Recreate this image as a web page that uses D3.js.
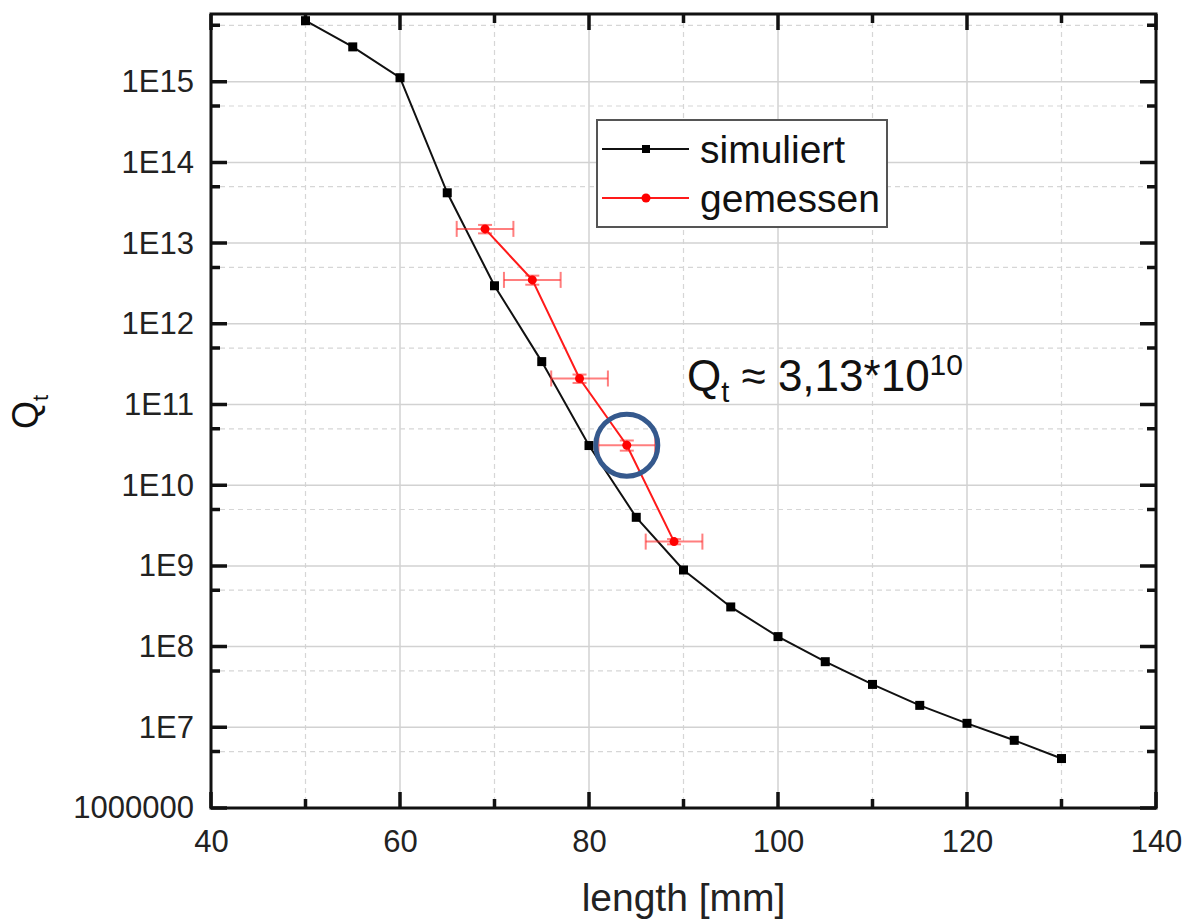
<!DOCTYPE html>
<html>
<head>
<meta charset="utf-8">
<script src="https://cdn.jsdelivr.net/npm/d3@7"></script>
<style>
  html, body { margin: 0; padding: 0; background: #fff; }
  svg { display: block; font-family: "Liberation Sans", Arial, sans-serif; }
</style>
</head>
<body>
<svg id="chart" width="1186" height="923"></svg>
<script>
// simulated curve
const simLength = [50, 55, 60, 65, 70, 75, 80, 85, 90, 95, 100, 105, 110, 115, 120, 125, 130];
const simQ = [5.7e15, 2.7e15, 1.12e15, 4.2e13, 2.96e12, 3.4e11, 3.1e10, 4.0e9, 8.9e8,
              3.1e8, 1.33e8, 6.5e7, 3.4e7, 1.87e7, 1.12e7, 6.9e6, 4.1e6];

// measured points with error bars
const meaLength = [69, 74, 79, 84, 89];
const meaQ = [1.5e13, 3.5e12, 2.1e11, 3.13e10, 2.0e9];
const meaLengthErr = [3, 3, 3, 3, 3];
const meaQErr = [1.8e12, 0.45e12, 0.25e11, 0.45e10, 0.15e9];

const xTicks = [40, 60, 80, 100, 120, 140];
const xMinorTicks = [50, 70, 90, 110, 130];
const yTicks = [1e6, 1e7, 1e8, 1e9, 1e10, 1e11, 1e12, 1e13, 1e14, 1e15];
const yTickLabels = ["1000000", "1E7", "1E8", "1E9", "1E10", "1E11", "1E12", "1E13", "1E14", "1E15"];
const yMinorTicks = [5e6, 5e7, 5e8, 5e9, 5e10, 5e11, 5e12, 5e13, 5e14, 5e15];

const seriesNames = ["simuliert", "gemessen"];
const highlightIndex = 3;

(function drawChart() {
  const svg = d3.select("#chart");
  const width = 1186, height = 923;
  const margin = { top: 14, right: 30, bottom: 115, left: 211 };
  const innerWidth = width - margin.left - margin.right;
  const innerHeight = height - margin.top - margin.bottom;

  const g = svg.append("g")
    .attr("transform", `translate(${margin.left},${margin.top})`);

  const x = d3.scaleLinear().domain([40, 140]).range([0, innerWidth]);
  const y = d3.scaleLog().domain([1e6, 6.9e15]).range([innerHeight, 0]);

  // grid
  const grid = g.append("g");
  grid.selectAll(".vmaj").data(xTicks.slice(1, -1)).enter().append("line")
    .attr("x1", d => x(d)).attr("x2", d => x(d))
    .attr("y1", 0).attr("y2", innerHeight)
    .attr("stroke", "#d2d2d2").attr("stroke-width", 1.5);
  grid.selectAll(".vmin").data(xMinorTicks).enter().append("line")
    .attr("x1", d => x(d)).attr("x2", d => x(d))
    .attr("y1", 0).attr("y2", innerHeight)
    .attr("stroke", "#d6d6d6").attr("stroke-width", 1.2)
    .attr("stroke-dasharray", "5,4");
  grid.selectAll(".hmaj").data(yTicks.slice(1)).enter().append("line")
    .attr("x1", 0).attr("x2", innerWidth)
    .attr("y1", d => y(d)).attr("y2", d => y(d))
    .attr("stroke", "#d2d2d2").attr("stroke-width", 1.5);
  grid.selectAll(".hmin").data(yMinorTicks).enter().append("line")
    .attr("x1", 0).attr("x2", innerWidth)
    .attr("y1", d => y(d)).attr("y2", d => y(d))
    .attr("stroke", "#d6d6d6").attr("stroke-width", 1.2)
    .attr("stroke-dasharray", "5,4");

  // tick labels through d3 axes (axis lines removed)
  function styleAxis(sel) {
    sel.select(".domain").remove();
    sel.selectAll(".tick line").remove();
    sel.selectAll(".tick text")
      .attr("fill", "#222")
      .style("font-size", "31px");
  }

  g.append("g")
    .attr("transform", `translate(0,${innerHeight})`)
    .call(d3.axisBottom(x).tickValues(xTicks).tickSize(0).tickPadding(22).tickFormat(d3.format("d")))
    .call(styleAxis);

  g.append("g")
    .call(d3.axisLeft(y).tickValues(yTicks).tickSize(0).tickPadding(17)
      .tickFormat((d, i) => yTickLabels[i]))
    .call(styleAxis);

  // frame
  g.append("rect")
    .attr("width", innerWidth).attr("height", innerHeight)
    .attr("fill", "none").attr("stroke", "#111").attr("stroke-width", 3);

  // inward tick marks on all four sides, as one path
  const tickPath = d3.path();
  [[xTicks, 16], [xMinorTicks, 9]].forEach(([vals, len]) => {
    vals.forEach(v => {
      tickPath.moveTo(x(v), innerHeight); tickPath.lineTo(x(v), innerHeight - len);
      tickPath.moveTo(x(v), 0); tickPath.lineTo(x(v), len);
    });
  });
  [[yTicks, 16], [yMinorTicks, 9]].forEach(([vals, len]) => {
    vals.forEach(v => {
      tickPath.moveTo(0, y(v)); tickPath.lineTo(len, y(v));
      tickPath.moveTo(innerWidth, y(v)); tickPath.lineTo(innerWidth - len, y(v));
    });
  });
  g.append("path")
    .attr("d", tickPath.toString())
    .attr("fill", "none")
    .attr("stroke", "#111")
    .attr("stroke-width", 3.5);

  // simulated line
  const simData = simLength.map((d, i) => ({ x: d, y: simQ[i] }));
  g.append("path")
    .datum(simData)
    .attr("fill", "none").attr("stroke", "#111").attr("stroke-width", 2)
    .attr("d", d3.line().x(d => x(d.x)).y(d => y(d.y)));
  g.selectAll(".sim").data(simData).enter().append("rect")
    .attr("x", d => x(d.x) - 4.5).attr("y", d => y(d.y) - 4.5)
    .attr("width", 9).attr("height", 9).attr("fill", "#000");

  // measured line
  const meaData = meaLength.map((d, i) => ({
    x: d, y: meaQ[i], xe: meaLengthErr[i], ye: meaQErr[i]
  }));
  const errColor = "rgba(255,40,40,0.6)";
  const eb = g.selectAll(".err").data(meaData).enter().append("g")
    .attr("stroke", errColor).attr("stroke-width", 2);
  eb.append("line")
    .attr("x1", d => x(d.x - d.xe)).attr("x2", d => x(d.x + d.xe))
    .attr("y1", d => y(d.y)).attr("y2", d => y(d.y));
  eb.append("line")
    .attr("x1", d => x(d.x - d.xe)).attr("x2", d => x(d.x - d.xe))
    .attr("y1", d => y(d.y) - 8).attr("y2", d => y(d.y) + 8);
  eb.append("line")
    .attr("x1", d => x(d.x + d.xe)).attr("x2", d => x(d.x + d.xe))
    .attr("y1", d => y(d.y) - 8).attr("y2", d => y(d.y) + 8);
  eb.append("line")
    .attr("x1", d => x(d.x)).attr("x2", d => x(d.x))
    .attr("y1", d => y(d.y - d.ye)).attr("y2", d => y(d.y + d.ye));
  eb.append("line")
    .attr("x1", d => x(d.x) - 7).attr("x2", d => x(d.x) + 7)
    .attr("y1", d => y(d.y - d.ye)).attr("y2", d => y(d.y - d.ye));
  eb.append("line")
    .attr("x1", d => x(d.x) - 7).attr("x2", d => x(d.x) + 7)
    .attr("y1", d => y(d.y + d.ye)).attr("y2", d => y(d.y + d.ye));

  g.append("path")
    .datum(meaData)
    .attr("fill", "none").attr("stroke", "#ff1a1a").attr("stroke-width", 2)
    .attr("d", d3.line().x(d => x(d.x)).y(d => y(d.y)));
  g.selectAll(".mea").data(meaData).enter().append("circle")
    .attr("cx", d => x(d.x)).attr("cy", d => y(d.y)).attr("r", 4.5)
    .attr("fill", "#ff0000");

  // highlight circle
  const hl = meaData[highlightIndex];
  g.append("circle")
    .attr("cx", x(hl.x)).attr("cy", y(hl.y)).attr("r", 31)
    .attr("fill", "none").attr("stroke", "#35598d").attr("stroke-width", 5);

  // annotation
  const ann = svg.append("text")
    .attr("x", 687).attr("y", 391)
    .attr("fill", "#111").style("font-size", "44px");
  ann.append("tspan").text("Q");
  ann.append("tspan").attr("dy", 11).style("font-size", "29px").text("t");
  ann.append("tspan").attr("dy", -11).text(" ≈ 3,13*10");
  ann.append("tspan").attr("dy", -16).style("font-size", "30px").text("10");

  // legend
  const legend = svg.append("g");
  legend.append("rect")
    .attr("x", 597).attr("y", 120).attr("width", 290).attr("height", 107)
    .attr("fill", "#fff").attr("stroke", "#555").attr("stroke-width", 2);
  const legColors = ["#111", "#ff1a1a"];
  seriesNames.forEach((name, i) => {
    const item = legend.append("g").attr("transform", `translate(0,${149 + i * 49})`);
    item.append("line")
      .attr("x1", 602).attr("x2", 689).attr("y1", 0).attr("y2", 0)
      .attr("stroke", legColors[i]).attr("stroke-width", 2);
    if (i === 0) {
      item.append("rect").attr("x", 642).attr("y", -4).attr("width", 8).attr("height", 8).attr("fill", "#000");
    } else {
      item.append("circle").attr("cx", 646).attr("cy", 0).attr("r", 4.5).attr("fill", "#ff0000");
    }
    item.append("text")
      .attr("x", 700).attr("y", 14)
      .attr("fill", "#111")
      .style("font-size", "39px")
      .text(name);
  });

  // axis titles
  svg.append("text")
    .attr("x", margin.left + innerWidth / 2)
    .attr("y", 911)
    .attr("text-anchor", "middle")
    .attr("fill", "#222")
    .style("font-size", "39px")
    .text("length [mm]");

  const yt = svg.append("text")
    .attr("transform", "translate(38,429) rotate(-90)")
    .attr("fill", "#111")
    .style("font-size", "36px");
  yt.append("tspan").text("Q");
  yt.append("tspan").attr("dy", 10).style("font-size", "22px").text("t");
})();
</script>
</body>
</html>
